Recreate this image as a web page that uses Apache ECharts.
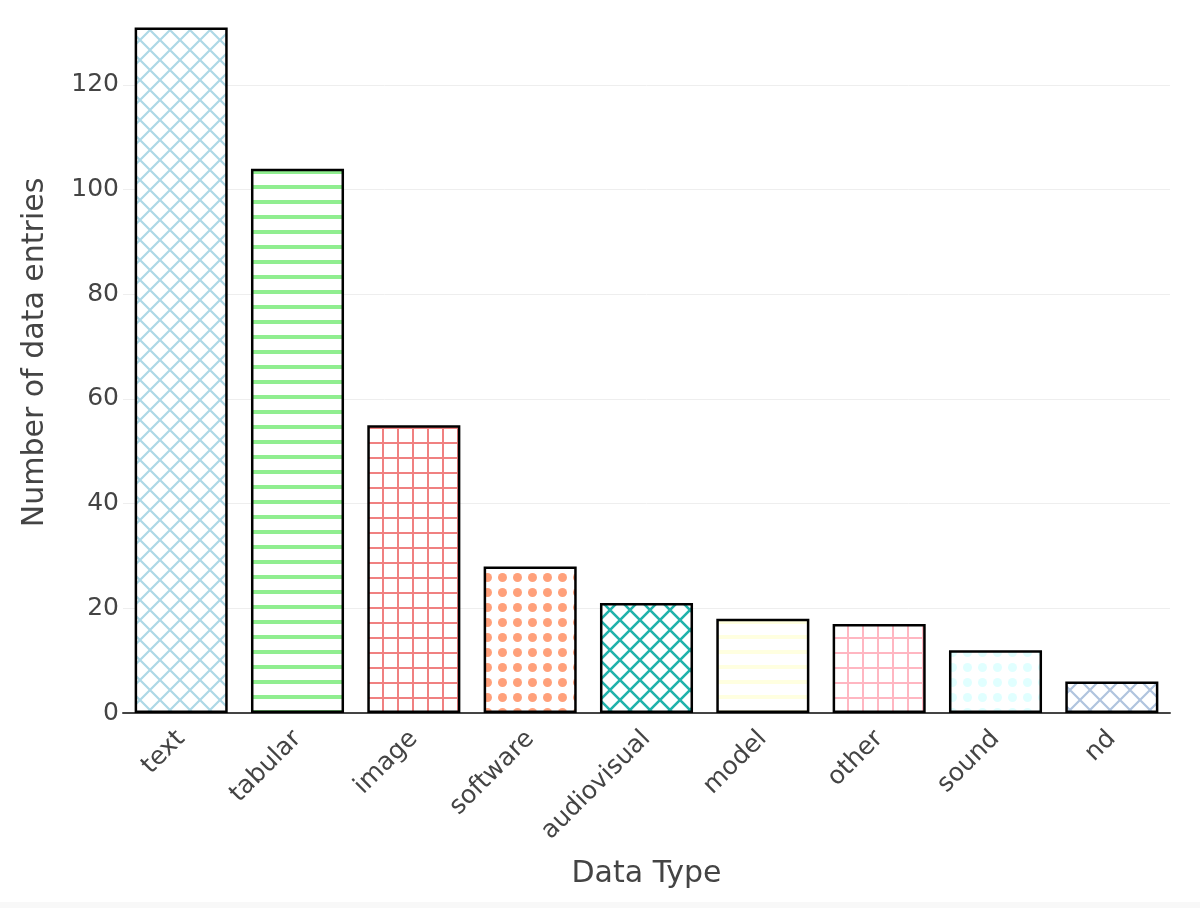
<!DOCTYPE html>
<html lang="en">
<head>
    <meta charset="UTF-8">
    <title>Data Type</title>
    <script src="https://cdn.jsdelivr.net/npm/echarts/dist/echarts.min.js"></script>
    <style>
        body {
            margin: 0;
            background-color: #f8f8f8;
        }
        #chart {
            width: 1200px;
            height: 902px;
            background-color: #ffffff;
        }
    </style>
</head>
<body>
<div id="chart"></div>
<script>
var categories = ['text', 'tabular', 'image', 'software', 'audiovisual', 'model', 'other', 'sound', 'nd'];
var counts = [131, 104, 55, 28, 21, 18, 17, 12, 6];
var barColors = ['#ADD8E6', '#90EE90', '#F08080', '#FFA07A', '#20B2AA', '#FFFFE0', '#FFB6C1', '#E0FFFF', '#B0C4DE'];
var barShapes = ['x', '-', '+', '.', 'x', '-', '+', '.', 'x'];

// build a small repeating tile for each fill shape
function makePattern(shape, color) {
    var c = document.createElement('canvas');
    var s = shape === 'x' ? 20 : 15;
    c.width = s;
    c.height = s;
    var ctx = c.getContext('2d');
    ctx.fillStyle = '#ffffff';
    ctx.fillRect(0, 0, s, s);
    ctx.fillStyle = color;
    ctx.strokeStyle = color;
    if (shape === 'x') {
        ctx.lineWidth = color === '#20B2AA' ? 2.6 : 2.2;
        for (var k = -s; k <= s; k += s) {
            ctx.beginPath();
            ctx.moveTo(k, 0); ctx.lineTo(k + s, s);
            ctx.moveTo(k + s, 0); ctx.lineTo(k, s);
            ctx.stroke();
        }
    } else if (shape === '-') {
        ctx.fillRect(0, 5, s, 4);
    } else if (shape === '+') {
        ctx.fillRect(0, 7, s, 2);
        ctx.fillRect(7, 0, 2, s);
    } else if (shape === '.') {
        ctx.beginPath();
        ctx.arc(s / 2, s / 2, 4.5, 0, Math.PI * 2);
        ctx.fill();
    }
    return { image: c, repeat: 'repeat' };
}

var chart = echarts.init(document.getElementById('chart'));
var font = "'DejaVu Sans', Verdana, sans-serif";

var option = {
    animation: false,
    textStyle: { fontFamily: font },
    grid: { left: 123, right: 30, top: 0, bottom: 189 },
    xAxis: {
        type: 'category',
        data: categories,
        name: 'Data Type',
        nameLocation: 'middle',
        nameGap: 146,
        nameTextStyle: { fontSize: 30, color: '#444', fontFamily: font },
        axisLine: { lineStyle: { color: '#444', width: 2 } },
        axisTick: { show: false },
        axisLabel: { rotate: 45, fontSize: 25, color: '#444', margin: 22, fontFamily: font }
    },
    yAxis: {
        type: 'value',
        min: 0,
        max: 136.24,
        interval: 20,
        name: 'Number of data entries',
        nameLocation: 'middle',
        nameGap: 73,
        nameTextStyle: { fontSize: 30, color: '#444', fontFamily: font, padding: [0, 0, 0, 8] },
        axisLine: { show: false },
        axisTick: { show: false },
        axisLabel: { fontSize: 25, color: '#444', margin: 4, showMaxLabel: false, fontFamily: font },
        splitLine: { show: true, showMaxLine: false, lineStyle: { color: '#eeeeee', width: 1 } }
    },
    series: [{
        type: 'bar',
        barCategoryGap: '20%',
        data: counts.map(function (v, i) {
            return {
                value: v,
                itemStyle: {
                    color: makePattern(barShapes[i], barColors[i]),
                    borderColor: '#000000',
                    borderWidth: 2.5
                }
            };
        })
    }]
};

chart.setOption(option);
</script>
</body>
</html>
